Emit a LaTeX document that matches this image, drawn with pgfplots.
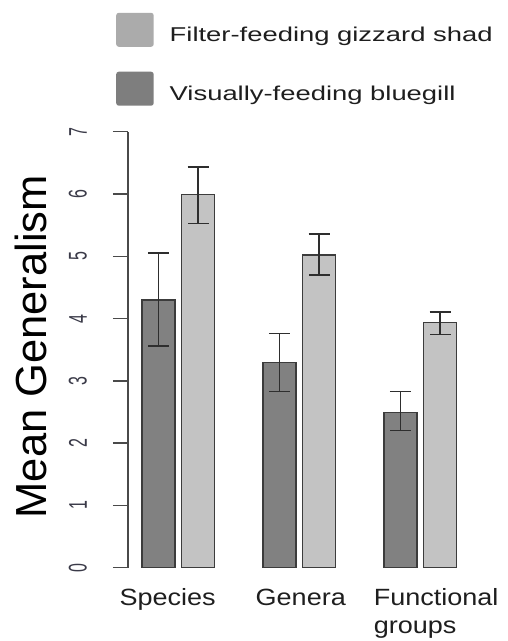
\documentclass[border=0pt]{standalone}
\usepackage{fontspec}
\setmainfont{Liberation Sans}
\usepackage{graphicx}
\usepackage{pgfplots}
\pgfplotsset{compat=1.18}
\usepackage{pgfplotstable}
\definecolor{darkbar}{HTML}{818181}
\definecolor{lightbar}{HTML}{C3C3C3}
\definecolor{edgecol}{HTML}{3C3C3C}
\definecolor{legdark}{HTML}{7E7E7E}
\definecolor{leglight}{HTML}{ABABAB}
\definecolor{axisgray}{HTML}{4A4A4A}
\definecolor{errcol}{HTML}{2E2E2E}
\definecolor{textcol}{HTML}{1E1E1E}
\definecolor{ticktext}{HTML}{3A3A48}

\pgfplotstableread{
x y ep em
0 4.298 0.759 0.739
1 3.291 0.472 0.465
2 2.488 0.338 0.288
}\bluegill
\pgfplotstableread{
x y ep em
0 5.995 0.443 0.466
1 5.020 0.338 0.321
2 3.933 0.172 0.192
}\shad

\begin{document}
\begin{tikzpicture}
\useasboundingbox (0,0) rectangle (508pt,641pt);
\begin{axis}[
  at={(128pt,73.3pt)}, anchor=south west,
  scale only axis, width=342.6pt, height=436pt,
  xmin=-0.4157, xmax=2.4157, ymin=0, ymax=7,
  clip=false,
  ybar, bar width=33pt,
  axis y line*=left, axis x line*=bottom,
  x axis line style={draw=none},
  y axis line style={line width=1.5pt, color=axisgray},
  tick align=outside, major tick length=15pt,
  ytick={0,1,2,3,4,5,6,7},
  yticklabels={\scalebox{1}[1.6]{0},\scalebox{1}[1.6]{1},\scalebox{1}[1.6]{2},\scalebox{1}[1.6]{3},\scalebox{1}[1.6]{4},\scalebox{1}[1.6]{5},\scalebox{1}[1.6]{6},\scalebox{1}[1.6]{7}},
  y tick style={line width=1.5pt, color=axisgray},
  yticklabel style={rotate=90, anchor=south, inner sep=0pt, font=\fontsize{16}{19}\selectfont, text=ticktext},
  yticklabel shift=26pt,
  x tick style={draw=none},
  xtick={-0.0876,1.012,2.131},
  xticklabels={\scalebox{1.15}[1]{Species},\scalebox{1.15}[1]{Genera},{\scalebox{1.15}[1]{Functional}\\\scalebox{1.15}[1]{groups}}},
  xticklabel style={align=left, anchor=north, inner sep=0pt, font=\fontsize{23.5}{28}\selectfont, text=textcol},
  xticklabel shift=6pt,
  ylabel={Mean Generalism},
  every axis y label/.style={at={(axis description cs:-0.2365,0.507)}, rotate=90, anchor=base, inner sep=0pt, font=\fontsize{43.5}{50}\selectfont, text=black},
  reverse legend,
  legend style={at={(axis description cs:-0.035,1.2732)}, anchor=north west, draw=none, fill=none, inner sep=0pt, row sep=24.9pt, column sep=16pt, font=\fontsize{20}{24}\selectfont, text=textcol, nodes={inner sep=0pt}},
  legend cell align=left,
]
\addplot[fill=darkbar, draw=edgecol, line width=1.5pt, bar shift=-19.9pt,
  legend image code/.code={\fill[legdark, rounded corners=2pt] (0pt,-11pt) rectangle (36pt,21.5pt);},
  error bars/.cd, y dir=both, y explicit,
  error bar style={line width=1.6pt, color=errcol},
  error mark options={rotate=90, mark size=10.5pt, line width=1.6pt, color=errcol}]
  table[x=x, y=y, y error plus=ep, y error minus=em] {\bluegill};
\addlegendentry{\scalebox{1.37}[1]{Visually-feeding bluegill}}
\addplot[fill=lightbar, draw=edgecol, line width=1.5pt, bar shift=19.9pt,
  legend image code/.code={\fill[leglight, rounded corners=2pt] (0pt,-11pt) rectangle (36pt,21.5pt);},
  error bars/.cd, y dir=both, y explicit,
  error bar style={line width=1.6pt, color=errcol},
  error mark options={rotate=90, mark size=10.5pt, line width=1.6pt, color=errcol}]
  table[x=x, y=y, y error plus=ep, y error minus=em] {\shad};
\addlegendentry{\scalebox{1.37}[1]{Filter-feeding gizzard shad}}
\end{axis}
\end{tikzpicture}
\end{document}
